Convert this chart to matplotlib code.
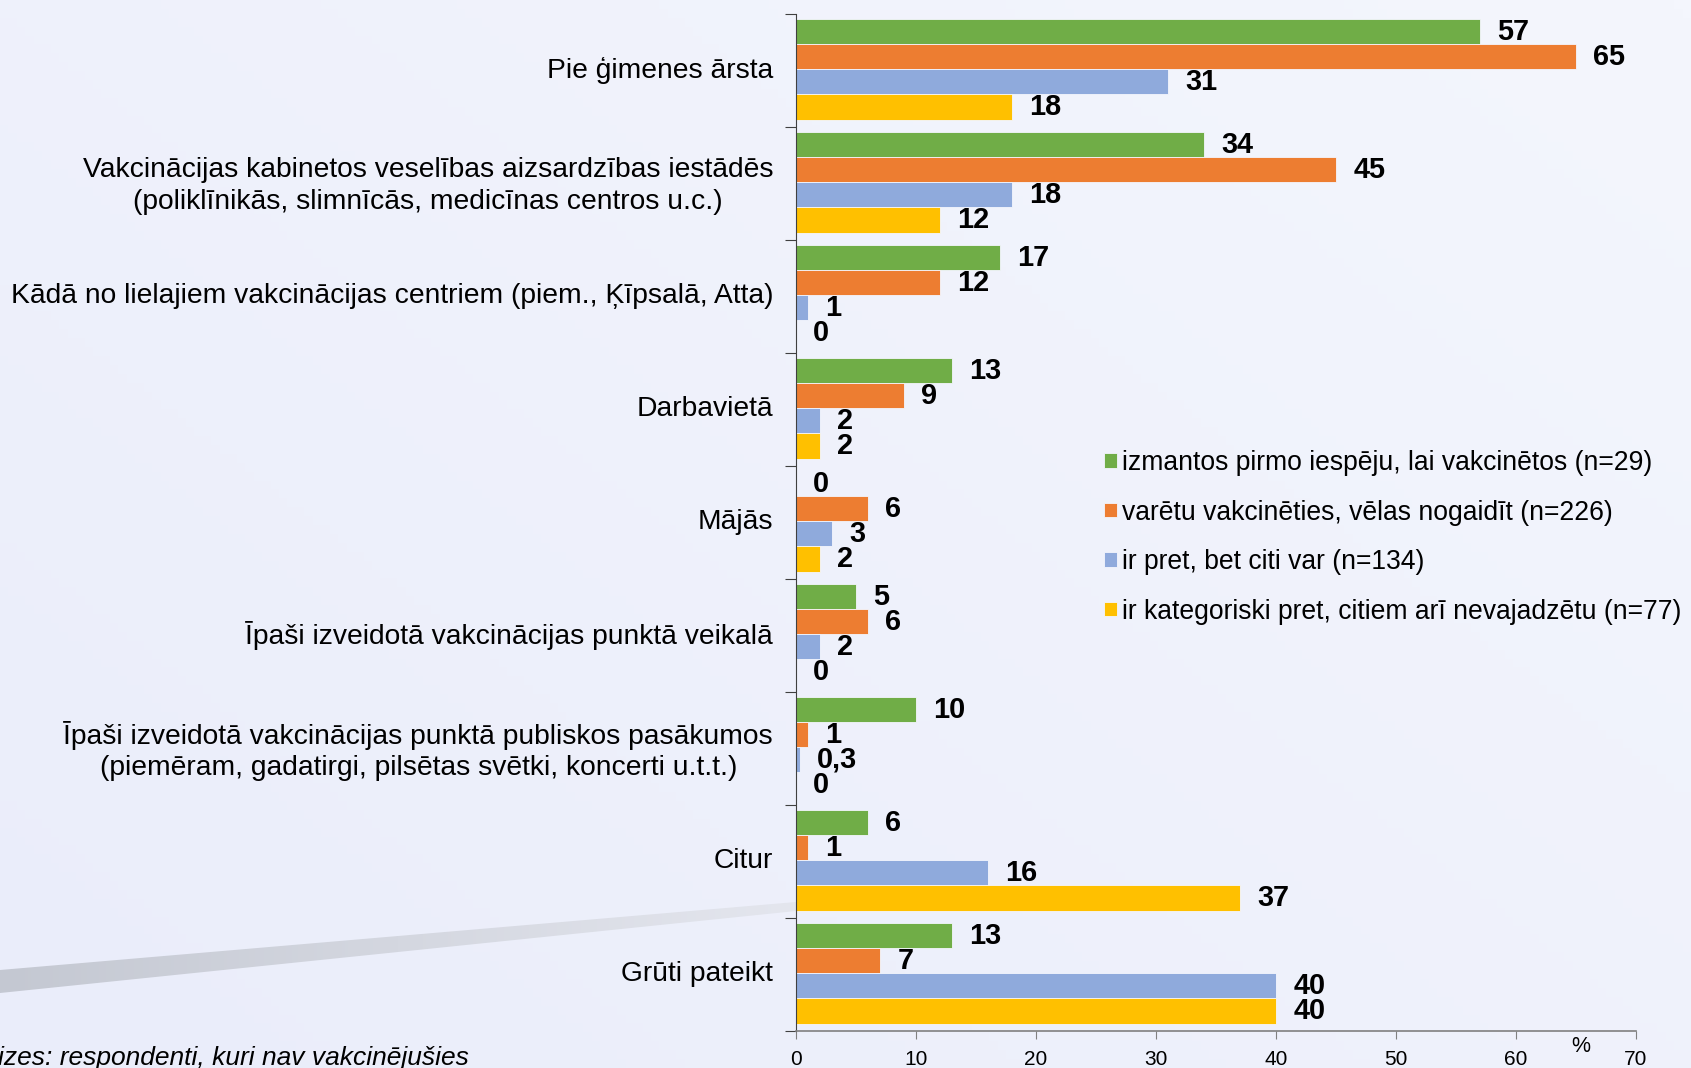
import numpy as np
import matplotlib.pyplot as plt
from matplotlib.patches import Polygon
from matplotlib.colors import LinearSegmentedColormap

plt.rcParams['font.family'] = ['Liberation Sans', 'DejaVu Sans']

# Where would respondents prefer to get vaccinated (% of each group)
categories = [
    "Pie ģimenes ārsta",
    "Vakcinācijas kabinetos veselības aizsardzības iestādēs\n(poliklīnikās, slimnīcās, medicīnas centros u.c.)",
    "Kādā no lielajiem vakcinācijas centriem (piem., Ķīpsalā, Atta)",
    "Darbavietā",
    "Mājās",
    "Īpaši izveidotā vakcinācijas punktā veikalā",
    "Īpaši izveidotā vakcinācijas punktā publiskos pasākumos\n(piemēram, gadatirgi, pilsētas svētki, koncerti u.t.t.)",
    "Citur",
    "Grūti pateikt",
]
first_chance = [57, 34, 17, 13, 0, 5, 10, 6, 13]
would_wait = [65, 45, 12, 9, 6, 6, 1, 1, 7]
against_others_may = [31, 18, 1, 2, 3, 2, 0.3, 16, 40]
strictly_against = [18, 12, 0, 2, 2, 0, 0, 37, 40]

series_names = [
    "izmantos pirmo iespēju, lai vakcinētos (n=29)",
    "varētu vakcinēties, vēlas nogaidīt (n=226)",
    "ir pret, bet citi var (n=134)",
    "ir kategoriski pret, citiem arī nevajadzētu (n=77)",
]
series_colors = ['#70ad47', '#ed7d31', '#8faadc', '#ffc000']
x_ticks = [0, 10, 20, 30, 40, 50, 60, 70]


def fmt(v):
    return f"{v:g}".replace('.', ',')


W, H = 1691, 1068
fig = plt.figure(figsize=(W / 100, H / 100), dpi=100)

# slide background with the grey swoosh
bg = fig.add_axes([0, 0, 1, 1], zorder=0)
gx = np.linspace(0, 1, 200)
gy = np.linspace(0, 1, 120)
grad = 0.55 * gx[None, :] + 0.45 * (1 - gy[:, None])
bg_cmap = LinearSegmentedColormap.from_list('bg', ['#eaedfa', '#f4f6fd'])
bg.imshow(grad, extent=(0, W, H, 0), aspect='auto', cmap=bg_cmap)
swoosh = Polygon([(0, 970), (796, 902), (796, 911), (0, 993)], closed=True,
                 facecolor='none', edgecolor='none')
bg.add_patch(swoosh)
sw_cmap = LinearSegmentedColormap.from_list('sw', ['#c4c8d2', '#e4e6ee'])
sw = bg.imshow(np.linspace(0, 1, 256)[None, :], extent=(0, 796, 1000, 895),
               aspect='auto', cmap=sw_cmap)
sw.set_clip_path(swoosh)
bg.set_xlim(0, W)
bg.set_ylim(H, 0)
bg.axis('off')

ax = fig.add_axes([796 / W, 1 - 1031 / H, (1636 - 796) / W, (1031 - 14) / H], zorder=1)
ax.patch.set_alpha(0)

y = np.arange(len(categories))
h = 0.222
offsets = [-1.5 * h - 0.01, -0.5 * h - 0.01, 0.5 * h - 0.01, 1.5 * h - 0.01]
all_series = [first_chance, would_wait, against_others_may, strictly_against]

for vals, name, col, off in zip(all_series, series_names, series_colors, offsets):
    ax.barh(y + off, vals, height=h, color=col, edgecolor='#f4f6fd',
            linewidth=0.6, label=name)
    for yy, v in zip(y + off, vals):
        ax.annotate(fmt(v), (v, yy), xytext=(12.5, 0), textcoords='offset points',
                    ha='left', va='center', fontsize=20.8, fontweight='bold')

ax.set_xlim(0, 70)
ax.set_ylim(len(categories) - 0.5, -0.5)
ax.set_xticks(x_ticks)
ax.tick_params(axis='x', labelsize=15, length=6, color='#808080', pad=8)
ax.set_yticks(np.arange(-0.5, len(categories), 1))
ax.set_yticklabels([])
ax.tick_params(axis='y', which='major', length=8, color='#404040')
# category names sit slightly above the middle of each group
ax.set_yticks(y - 0.03, minor=True)
ax.set_yticklabels(categories, minor=True, fontsize=20.3)
ax.tick_params(axis='y', which='minor', length=0, pad=16.5)
for lbl in ax.get_yticklabels(minor=True):
    lbl.set_multialignment('center')
    lbl.set_linespacing(1.28)

for side in ['top', 'right']:
    ax.spines[side].set_visible(False)
ax.spines['left'].set_color('#404040')
ax.spines['bottom'].set_color('#808080')
ax.spines['bottom'].set_linewidth(1.2)

ax.legend(loc='upper left', bbox_to_anchor=(1104 / W, 1 - 450 / H),
          bbox_transform=fig.transFigure, frameon=False, fontsize=19.1,
          handlelength=0.49, handleheight=0.47, handletextpad=0.2,
          labelspacing=0.886, borderpad=0, borderaxespad=0)

fig.text(1581 / W, 1 - 1047 / H, '%', ha='center', va='center', fontsize=15.5)
fig.text(-2 / W, 1 - 1058 / H, 'izes: respondenti, kuri nav vakcinējušies',
         ha='left', va='center', fontsize=19, style='italic')

fig.savefig('out.png', dpi=100)
